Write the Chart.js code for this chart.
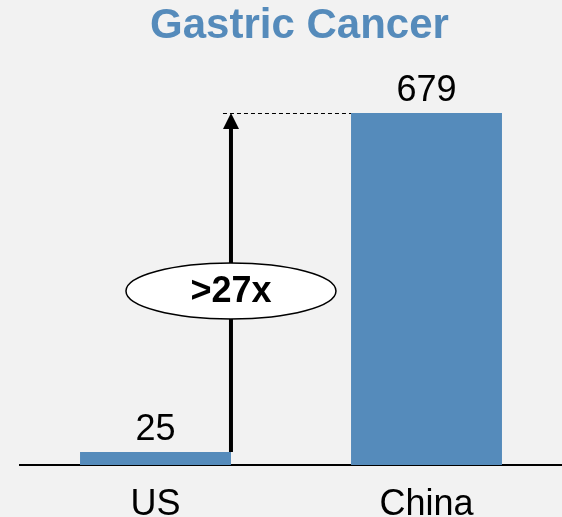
<!DOCTYPE html>
<html><head><meta charset="utf-8">
<script src="https://cdn.jsdelivr.net/npm/chart.js@4"></script>
<style>html,body{margin:0;padding:0;background:#f2f2f2;} canvas{display:block}</style>
</head><body>
<canvas id="c" width="562" height="517"></canvas>
<script>
const categories = ['US', 'China'];
const incidence = [25, 679];
const chartTitle = 'Gastric Cancer';
const FONT = '"Liberation Sans", Arial, sans-serif';
const BAR = '#558bbb';

const overlay = {
  id: 'overlay',
  afterDatasetsDraw(chart) {
    const ctx = chart.ctx;
    const meta = chart.getDatasetMeta(0);
    const ys = chart.scales.y;
    ctx.save();
    // title
    ctx.font = 'bold 42px ' + FONT;
    ctx.fillStyle = BAR;
    ctx.textAlign = 'center';
    ctx.textBaseline = 'alphabetic';
    ctx.fillText(chartTitle, 299.5, 38);

    ctx.font = '36px ' + FONT;
    ctx.fillStyle = '#000';
    meta.data.forEach((bar, i) => { ctx.fillText(String(incidence[i]), bar.x, bar.y - 12); });

    const b0 = meta.data[0], b1 = meta.data[1];
    const ax = b0.x + b0.width / 2;
    const yLow = ys.getPixelForValue(incidence[0]);
    const yHigh = ys.getPixelForValue(incidence[1]);
    ctx.strokeStyle = '#000';
    ctx.lineWidth = 1;
    ctx.setLineDash([4, 3]);
    ctx.beginPath(); ctx.moveTo(ax - 8, yHigh + 0.5); ctx.lineTo(b1.x - b1.width / 2, yHigh + 0.5); ctx.stroke();
    ctx.setLineDash([]);
    ctx.lineWidth = 4;
    ctx.beginPath(); ctx.moveTo(ax, yLow); ctx.lineTo(ax, yHigh + 14); ctx.stroke();
    ctx.beginPath(); ctx.moveTo(ax, yHigh); ctx.lineTo(ax - 8, yHigh + 16); ctx.lineTo(ax + 8, yHigh + 16); ctx.closePath(); ctx.fill();

    const cy = yHigh + (yLow - yHigh) * 0.525;
    ctx.beginPath(); ctx.ellipse(ax, cy, 105, 28, 0, 0, Math.PI * 2);
    ctx.fillStyle = '#fff'; ctx.fill();
    ctx.lineWidth = 1.5; ctx.stroke();
    ctx.fillStyle = '#000';
    ctx.font = 'bold 36px ' + FONT;
    ctx.textBaseline = 'middle';
    ctx.fillText('>' + Math.floor(incidence[1] / incidence[0]) + 'x', ax, cy + 1);
    ctx.restore();
  }
};

new Chart(document.getElementById('c'), {
  type: 'bar',
  data: {
    labels: categories,
    datasets: [{ data: incidence, backgroundColor: BAR, borderWidth: 0, barPercentage: 0.557, categoryPercentage: 1 }]
  },
  options: {
    responsive: false,
    animation: false,
    layout: { padding: { left: 20, right: 0, top: 113, bottom: 0 } },
    plugins: {
      legend: { display: false },
      tooltip: { enabled: false },
      title: { display: false }
    },
    scales: {
      y: { display: false, min: 0, max: 679 },
      x: {
        grid: { display: false },
        border: { display: true, color: '#000', width: 2 },
        ticks: { color: '#000', font: { family: FONT, size: 36 }, padding: 10 },
        afterFit(axis) { axis.height = 52; }
      }
    }
  },
  plugins: [overlay]
});
</script>
</body></html>
